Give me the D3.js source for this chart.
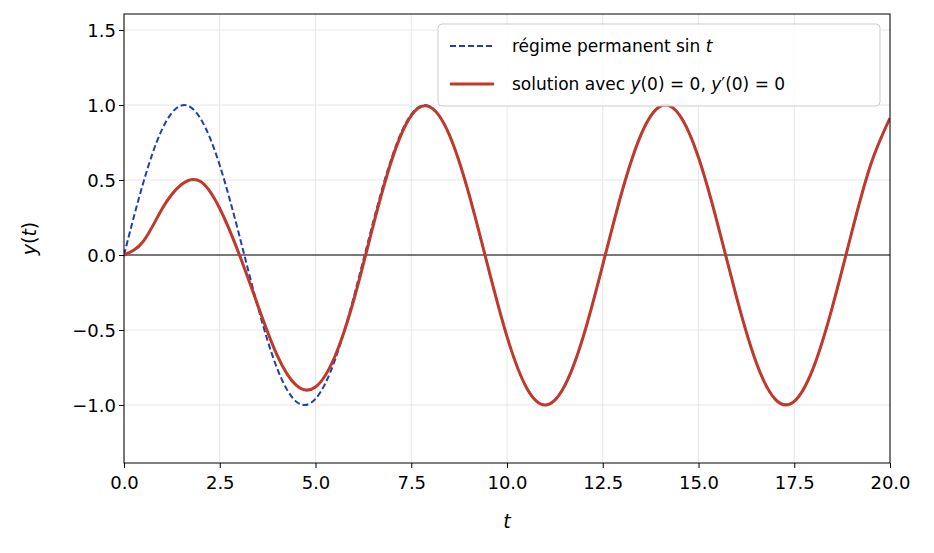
<!DOCTYPE html><html><head><meta charset="utf-8"><script src="https://cdn.jsdelivr.net/npm/d3@7"></script>
<style>body{margin:0;background:#fff}text{font-family:"DejaVu Sans";}</style></head><body><svg id="c" width="934" height="553"></svg><script>
const tVals=[0,0.5,1,1.5,2,2.5,3,3.5,4,4.5,5,5.5,6,6.5,7,7.5,8,8.5,9,9.5,10,10.5,11,11.5,12,12.5,13,13.5,14,14.5,15,15.5,16,16.5,17,17.5,18,18.5,19,19.5,20];
const steady=[0,0.479,0.841,0.997,0.909,0.598,0.141,-0.351,-0.757,-0.978,-0.959,-0.706,-0.279,0.215,0.657,0.938,0.989,0.798,0.412,-0.075,-0.544,-0.880,-1.0,-0.875,-0.537,-0.066,0.420,0.803,0.991,0.935,0.650,0.206,-0.288,-0.712,-0.961,-0.976,-0.751,-0.342,0.150,0.605,0.913];
const solution=[0,0.09,0.31,0.47,0.49,0.31,0.01,-0.34,-0.67,-0.87,-0.88,-0.68,-0.30,0.19,0.64,0.93,0.985,0.798,0.412,-0.075,-0.544,-0.880,-1.0,-0.875,-0.537,-0.066,0.420,0.803,0.991,0.935,0.650,0.206,-0.288,-0.712,-0.961,-0.976,-0.751,-0.342,0.150,0.605,0.913];
const xTicks=[0,2.5,5,7.5,10,12.5,15,17.5,20];
const yTicks=[-1,-0.5,0,0.5,1,1.5];
const svg=d3.select("#c");
const L=124,R=890,T=14,B=463;
const x=d3.scaleLinear().domain([0,20]).range([L,R]);
const y=d3.scaleLinear().domain([-1.387,1.607]).range([B,T]);
const fmt=v=>(v<0?"\u2212":"")+Math.abs(v).toFixed(1);
const g=svg.append("g");
xTicks.forEach(v=>g.append("line").attr("x1",x(v)).attr("x2",x(v)).attr("y1",T).attr("y2",B).attr("stroke","#e6e6e6"));
yTicks.forEach(v=>g.append("line").attr("y1",y(v)).attr("y2",y(v)).attr("x1",L).attr("x2",R).attr("stroke","#e6e6e6"));
svg.append("line").attr("x1",L).attr("x2",R).attr("y1",y(0)).attr("y2",y(0)).attr("stroke","#000").attr("stroke-width",1.2);
svg.append("defs").append("clipPath").attr("id","cp").append("rect").attr("x",L).attr("y",T).attr("width",R-L).attr("height",B-T);
const line=arr=>d3.line().x((d,i)=>x(tVals[i])).y(d=>y(d)).curve(d3.curveNatural)(arr);
svg.append("path").attr("d",line(steady)).attr("fill","none").attr("stroke","#1f3fb0").attr("stroke-width",2).attr("stroke-dasharray","6,3").attr("clip-path","url(#cp)");
svg.append("path").attr("d",line(solution)).attr("fill","none").attr("stroke","#c0392b").attr("stroke-width",3).attr("clip-path","url(#cp)");
const xa=svg.append("g").attr("transform",`translate(0,${B})`).call(d3.axisBottom(x).tickValues(xTicks).tickFormat(v=>v.toFixed(1)).tickSizeOuter(0).tickSize(5));
const ya=svg.append("g").attr("transform",`translate(${L},0)`).call(d3.axisLeft(y).tickValues(yTicks).tickFormat(fmt).tickSizeOuter(0).tickSize(5));
[xa,ya].forEach(a=>{a.selectAll("text").attr("font-size",18).attr("fill","#000").style("font-family","DejaVu Sans");a.select(".domain").remove();});
xa.selectAll("text").attr("dy","1.0em");
ya.selectAll("text").attr("dy","0.36em");
svg.append("rect").attr("x",L).attr("y",T).attr("width",R-L).attr("height",B-T).attr("fill","none").attr("stroke","#000").attr("stroke-width",1);
svg.append("text").attr("x",(L+R)/2).attr("y",528).attr("text-anchor","middle").attr("font-size",19).attr("font-style","italic").text("t");
svg.append("text").attr("transform",`translate(36,${(T+B)/2}) rotate(-90)`).attr("text-anchor","middle").attr("font-size",19).html('<tspan font-style="italic">y</tspan>(<tspan font-style="italic">t</tspan>)');
const lg=svg.append("g");
lg.append("rect").attr("x",438).attr("y",24).attr("width",442).attr("height",82).attr("rx",4).attr("fill","#fff").attr("fill-opacity",0.85).attr("stroke","#ccc");
lg.append("line").attr("x1",450).attr("x2",494).attr("y1",46).attr("y2",46).attr("stroke","#1f3fb0").attr("stroke-width",2).attr("stroke-dasharray","6,3");
lg.append("line").attr("x1",450).attr("x2",494).attr("y1",84).attr("y2",84).attr("stroke","#c0392b").attr("stroke-width",3);
lg.append("text").attr("x",512).attr("y",52).attr("font-size",17).html('régime permanent sin <tspan font-style="italic">t</tspan>');
lg.append("text").attr("x",512).attr("y",90).attr("font-size",17).html('solution avec <tspan font-style="italic">y</tspan>(0) = 0, <tspan font-style="italic">y</tspan>′(0) = 0');
</script></body></html>
